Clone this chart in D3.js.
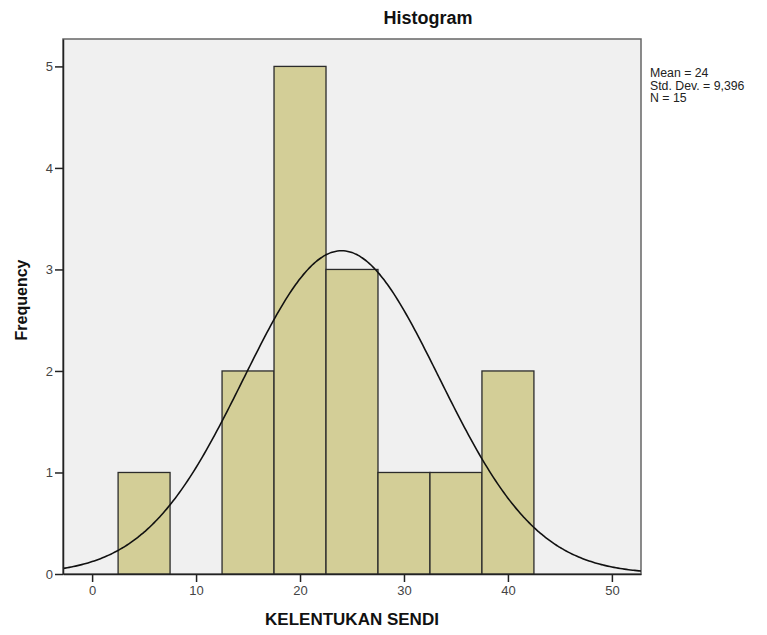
<!DOCTYPE html>
<html>
<head>
<meta charset="utf-8">
<script src="https://cdn.jsdelivr.net/npm/d3@7"></script>
<style>
  body { margin: 0; background: #ffffff; }
  svg { display: block; font-family: Arial, "Liberation Sans", sans-serif; }
</style>
</head>
<body>
<svg id="chart" width="767" height="635"></svg>
<script>
// ---- data ----
const binStarts = [2.5, 7.5, 12.5, 17.5, 22.5, 27.5, 32.5, 37.5];
const binWidth = 5;
const frequencies = [1, 0, 2, 5, 3, 1, 1, 2];
const xTicks = [0, 10, 20, 30, 40, 50];
const yTicks = [0, 1, 2, 3, 4, 5];
const statsMean = 24;
const statsSD = 9.396;
const statsN = 15;
const statLabels = ["Mean = 24", "Std. Dev. = 9,396", "N = 15"];

// ---- layout ----
const svg = d3.select("#chart");
const pLeft = 63, pRight = 641, pTop = 39, pBottom = 574;

const x = d3.scaleLinear().domain([-2.8, 52.8]).range([pLeft, pRight]);
const y = d3.scaleLinear().domain([0, 5.27]).range([pBottom, pTop]);

// plot background
svg.append("rect")
  .attr("x", pLeft).attr("y", pTop)
  .attr("width", pRight - pLeft).attr("height", pBottom - pTop)
  .attr("fill", "#f0f0f0")
  .attr("stroke", "#666").attr("stroke-width", 1.5);

// bars
const bins = binStarts.map((s, i) => ({ x0: s, x1: s + binWidth, f: frequencies[i] }));
svg.append("g").selectAll("rect")
  .data(bins.filter(d => d.f > 0))
  .join("rect")
  .attr("x", d => x(d.x0))
  .attr("y", d => y(d.f))
  .attr("width", d => x(d.x1) - x(d.x0))
  .attr("height", d => y(0) - y(d.f))
  .attr("fill", "#d3ce97")
  .attr("stroke", "#2b2b2b")
  .attr("stroke-width", 1.3);

// normal curve from the displayed statistics
const curveX = d3.range(-2.8, 52.81, 0.2);
const scaleFactor = statsN * binWidth;
const normal = v => scaleFactor * Math.exp(-0.5 * Math.pow((v - statsMean) / statsSD, 2)) / (statsSD * Math.sqrt(2 * Math.PI));
svg.append("path")
  .datum(curveX)
  .attr("fill", "none")
  .attr("stroke", "#111")
  .attr("stroke-width", 1.6)
  .attr("d", d3.line().x(d => x(d)).y(d => y(normal(d))).curve(d3.curveBasis));

// axes
const xAxis = svg.append("g")
  .attr("transform", `translate(0,${pBottom})`)
  .call(d3.axisBottom(x).tickValues(xTicks).tickFormat(d3.format("d")).tickSize(8).tickPadding(4).tickSizeOuter(0));
const yAxis = svg.append("g")
  .attr("transform", `translate(${pLeft},0)`)
  .call(d3.axisLeft(y).tickValues(yTicks).tickFormat(d3.format("d")).tickSize(8).tickPadding(2).tickSizeOuter(0));
[xAxis, yAxis].forEach(g => {
  g.select(".domain").attr("stroke", "#222").attr("stroke-width", 1.5);
  g.selectAll(".tick line").attr("stroke", "#222").attr("stroke-width", 1.5);
  g.selectAll(".tick text").attr("fill", "#444").style("font-size", "13px")
    .style("font-family", "Arial, 'Liberation Sans', sans-serif");
});

// title
svg.append("text")
  .attr("x", 428).attr("y", 24)
  .attr("text-anchor", "middle")
  .style("font-size", "18px").style("font-weight", "bold")
  .attr("fill", "#111")
  .text("Histogram");

// axis titles
svg.append("text")
  .attr("x", (pLeft + pRight) / 2).attr("y", 625)
  .attr("text-anchor", "middle")
  .style("font-size", "17px").style("font-weight", "bold")
  .attr("fill", "#111")
  .text("KELENTUKAN SENDI");

svg.append("text")
  .attr("transform", `translate(27,300) rotate(-90)`)
  .attr("text-anchor", "middle")
  .style("font-size", "16px").style("font-weight", "bold")
  .attr("fill", "#111")
  .text("Frequency");

// stats
svg.append("g").selectAll("text")
  .data(statLabels)
  .join("text")
  .attr("x", 650)
  .attr("y", (d, i) => 77 + i * 12.5)
  .style("font-size", "12.3px")
  .attr("fill", "#222")
  .text(d => d);
</script>
</body>
</html>
